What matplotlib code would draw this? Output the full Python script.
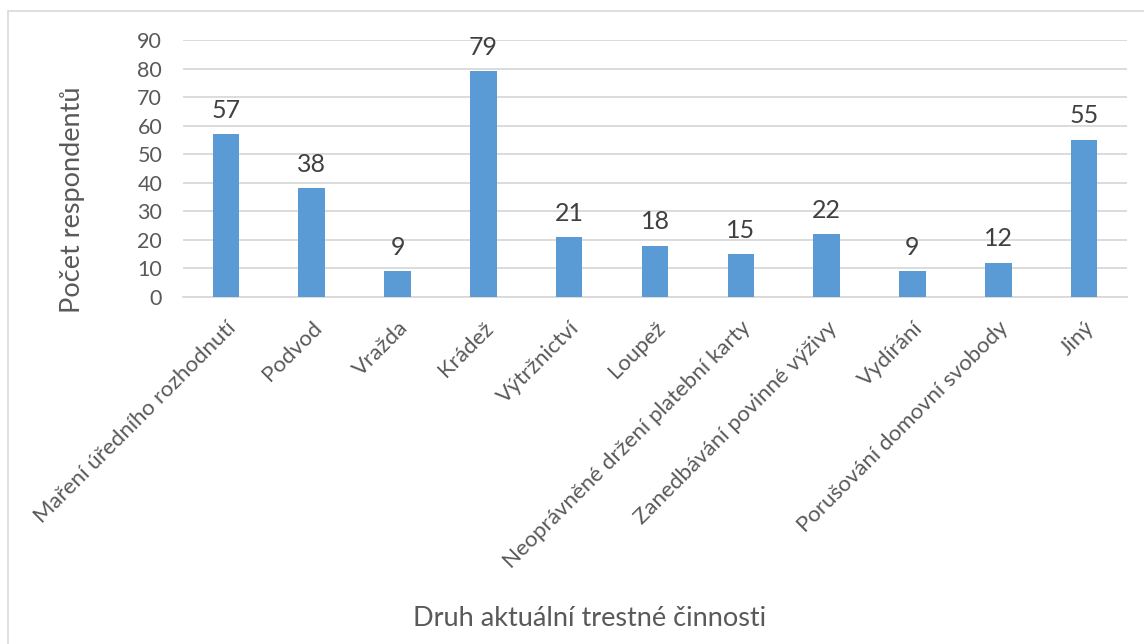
import matplotlib.pyplot as plt
from matplotlib.patches import Rectangle

# data
kategorie = ['Maření úředního rozhodnutí', 'Podvod', 'Vražda', 'Krádež', 'Výtržnictví',
             'Loupež', 'Neoprávněné držení platební karty', 'Zanedbávání povinné výživy',
             'Vydírání', 'Porušování domovní svobody', 'Jiný']
pocty = [57, 38, 9, 79, 21, 18, 15, 22, 9, 12, 55]
y_ticks = [0, 10, 20, 30, 40, 50, 60, 70, 80, 90]

plt.rcParams['font.family'] = ['Lato', 'DejaVu Sans']

fig = plt.figure(figsize=(11.44, 6.44), dpi=100)
fig.patches.append(Rectangle((8 / 1144, -0.1), 1.2, 1 - 11 / 644 + 0.1, transform=fig.transFigure,
                             fill=False, edgecolor='#D9D9D9', linewidth=1.2))

ax = fig.add_axes([183 / 1144, 1 - 297 / 644, (1127 - 183) / 1144, (297 - 40) / 644])
x = range(len(kategorie))
ax.bar(x, pocty, width=0.31, color='#5B9BD5', zorder=3)

for xi, v in zip(x, pocty):
    ax.annotate(str(v), (xi, v), xytext=(0, 9), textcoords='offset points',
                ha='center', va='bottom', fontsize=18, color='#404040')

ax.set_xlim(-0.5, len(kategorie) - 0.5)
ax.set_ylim(0, 90)
ax.set_yticks(y_ticks)
ax.grid(axis='y', color='#D9D9D9', linewidth=1.3, zorder=0)
for s in ['top', 'right', 'left']:
    ax.spines[s].set_visible(False)
ax.spines['bottom'].set_color('#D9D9D9')
ax.spines['bottom'].set_linewidth(1.3)
ax.tick_params(length=0, labelsize=15.5, colors='#595959')
ax.tick_params(axis='y', pad=15)
ax.tick_params(axis='x', labelsize=16, pad=15)

ax.set_xticks(list(x))
ax.set_xticklabels(kategorie, rotation=45, ha='right', rotation_mode='anchor')

ax.set_ylabel('Počet respondentů', fontsize=19.5, color='#595959')
ax.yaxis.set_label_coords(-0.104, 0.377)
fig.text(590 / 1144, 1 - 618 / 644, 'Druh aktuální trestné činnosti', ha='center', va='center',
         fontsize=19.5, color='#595959')

plt.savefig('out.png', dpi=100)
